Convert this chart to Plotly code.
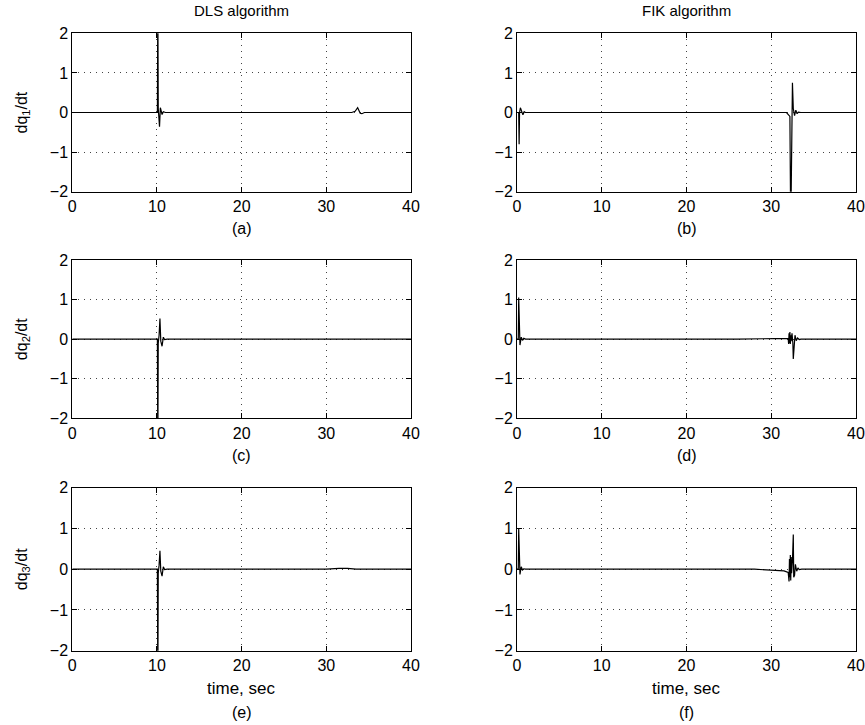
import plotly.graph_objects as go
from plotly.subplots import make_subplots

# ---------------- data ----------------
# (a) DLS, dq1/dt
t_a = [0, 10.05, 10.1, 10.15, 10.25, 10.3, 10.4, 10.5, 10.6, 10.75, 11.0, 33.0, 33.4, 33.7, 34.0, 34.2, 34.5, 40]
v_a = [0, 0, 3.0, 0.1, -0.2, -0.36, 0.12, 0.0, -0.05, 0.02, 0, 0, 0.03, 0.12, -0.02, -0.03, 0, 0]
# (b) FIK, dq1/dt
t_b = [0, 0.2, 0.25, 0.3, 0.4, 0.55, 0.7, 0.85, 1.0, 31.8, 32.2, 32.3, 32.5, 32.6, 32.75, 32.9, 33.05, 33.2, 33.5, 40]
v_b = [0, 0, -0.8, 0.0, 0.12, 0.02, -0.06, 0.02, 0, 0, -0.1, -3.0, 0.75, 0.1, -0.08, 0.06, -0.03, 0.01, 0, 0]
# (c) DLS, dq2/dt
t_c = [0, 10.05, 10.1, 10.15, 10.25, 10.35, 10.45, 10.6, 10.75, 10.9, 11.2, 40]
v_c = [0, 0, -3.0, -0.1, 0.1, 0.52, -0.05, -0.18, 0.05, -0.01, 0, 0]
# (d) FIK, dq2/dt
t_d = [0, 0.15, 0.2, 0.25, 0.35, 0.5, 0.65, 0.8, 1.0, 26.0, 32.0, 32.05, 32.1, 32.15, 32.2, 32.25,
       32.3, 32.35, 32.45, 32.55, 32.6, 32.7, 32.8, 32.95, 33.1, 33.3, 33.5, 40]
v_d = [0, 0, 1.05, 0.3, -0.15, 0.05, -0.03, 0.02, 0, 0, 0.02, -0.12, 0.15, -0.1, 0.18, -0.12,
       0.1, -0.05, 0.15, -0.1, -0.5, 0.0, 0.1, -0.04, 0.03, -0.01, 0, 0]
# (e) DLS, dq3/dt
t_e = [0, 10.05, 10.1, 10.15, 10.25, 10.35, 10.45, 10.6, 10.75, 10.9, 11.2, 30.0, 31.5, 32.5, 33.5, 40]
v_e = [0, 0, -3.0, -0.1, 0.1, 0.45, -0.05, -0.17, 0.06, -0.01, 0, 0, 0.02, 0.02, 0, 0]
# (f) FIK, dq3/dt
t_f = [0, 0.15, 0.2, 0.25, 0.35, 0.5, 0.65, 0.8, 1.0, 28.0, 31.5, 32.0, 32.1, 32.15, 32.2, 32.25,
       32.3, 32.35, 32.4, 32.5, 32.6, 32.65, 32.75, 32.85, 33.0, 33.15, 33.3, 33.6, 40]
v_f = [0, 0, 1.0, 0.3, -0.13, 0.06, -0.02, 0.01, 0, 0, -0.04, -0.08, -0.3, 0.25, -0.2, 0.35,
       -0.28, 0.3, -0.1, 0.2, 0.85, -0.2, -0.15, 0.12, -0.05, 0.03, -0.01, 0, 0]

col_titles = ["DLS algorithm", "FIK algorithm"]
row_labels = ["dq<sub>1</sub>/dt", "dq<sub>2</sub>/dt", "dq<sub>3</sub>/dt"]
panel_tags = ["(a)", "(b)", "(c)", "(d)", "(e)", "(f)"]
x_label = "time, sec"
x_ticks = [0, 10, 20, 30, 40]
y_ticks = [-2, -1, 0, 1, 2]
y_ticktext = ["\u22122", "\u22121", "0", "1", "2"]

series = [(t_a, v_a), (t_b, v_b), (t_c, v_c), (t_d, v_d), (t_e, v_e), (t_f, v_f)]

# ---------------- layout geometry (pixels) ----------------
W, H = 865, 725
col_px = [(72.3, 411.0), (517.0, 856.0)]
row_px = [(33.3, 191.7), (260.0, 418.3), (487.7, 650.7)]

def px_x(x):
    return x / W

def px_y(y):
    return 1 - y / H

FONT = "Liberation Sans, Arial, Helvetica, sans-serif"
FS = 16

fig = make_subplots(rows=3, cols=2)

for i, (t, v) in enumerate(series):
    r, c = i // 2 + 1, i % 2 + 1
    fig.add_trace(go.Scatter(x=t, y=v, mode="lines",
                             line=dict(color="black", width=1.2),
                             showlegend=False, hoverinfo="skip"), row=r, col=c)

axis_common = dict(
    automargin=False,
    showline=True, linecolor="black", linewidth=1, mirror="ticks",
    ticks="inside", ticklen=5, tickwidth=1, tickcolor="black",
    showgrid=True, gridcolor="#444", gridwidth=1, griddash="1px,5px",
    zeroline=False, tickfont=dict(family=FONT, size=FS, color="black"),
)

for i in range(6):
    r, c = i // 2, i % 2
    n = i + 1
    xa = "xaxis" if n == 1 else f"xaxis{n}"
    ya = "yaxis" if n == 1 else f"yaxis{n}"
    x0, x1 = col_px[c]
    y0, y1 = row_px[r]
    fig.layout[xa].update(domain=[px_x(x0), px_x(x1)], range=[0, 40],
                          tickvals=x_ticks, **axis_common)
    fig.layout[ya].update(domain=[px_y(y1), px_y(y0)], range=[-2, 2],
                          tickvals=y_ticks, ticktext=y_ticktext, **axis_common)

ann = []
# column titles
for c, title in enumerate(col_titles):
    cx = (col_px[c][0] + col_px[c][1]) / 2
    ann.append(dict(x=px_x(cx), y=px_y(11), text=title, showarrow=False,
                    xref="paper", yref="paper", xanchor="center", yanchor="middle",
                    font=dict(family=FONT, size=15, color="black")))
# y labels
for r, lab in enumerate(row_labels):
    cy = (row_px[r][0] + row_px[r][1]) / 2
    ann.append(dict(x=px_x(22), y=px_y(cy), text=lab, showarrow=False, textangle=-90,
                    xref="paper", yref="paper", xanchor="center", yanchor="middle",
                    font=dict(family=FONT, size=FS, color="black")))
# panel tags and x labels
for i, tag in enumerate(panel_tags):
    r, c = i // 2, i % 2
    cx = (col_px[c][0] + col_px[c][1]) / 2
    if r < 2:
        ty = row_px[r][1] + 37
    else:
        ty = row_px[r][1] + 62
        ann.append(dict(x=px_x(cx), y=px_y(row_px[r][1] + 38), text=x_label, showarrow=False,
                        xref="paper", yref="paper", xanchor="center", yanchor="middle",
                        font=dict(family=FONT, size=17, color="black")))
    ann.append(dict(x=px_x(cx), y=px_y(ty), text=tag, showarrow=False,
                    xref="paper", yref="paper", xanchor="center", yanchor="middle",
                    font=dict(family=FONT, size=FS, color="black")))

fig.update_layout(width=W, height=H, autosize=False,
                  margin=dict(l=0, r=0, t=0, b=0),
                  paper_bgcolor="white", plot_bgcolor="white",
                  annotations=ann, showlegend=False)

fig.write_html("out.html", config={"displayModeBar": False},
               post_script="document.body.style.margin='0px';document.body.style.padding='0px';")
